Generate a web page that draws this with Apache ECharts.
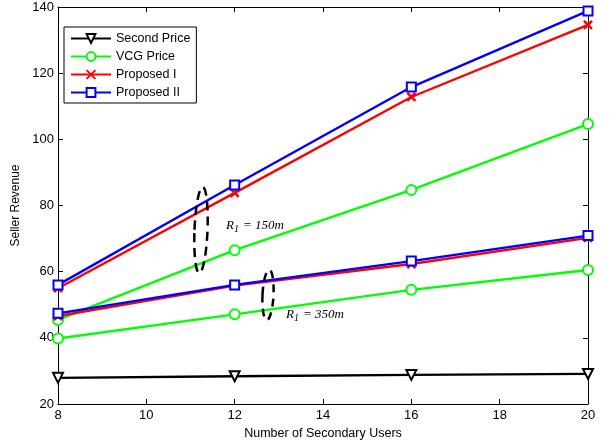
<!DOCTYPE html>
<html>
<head>
<meta charset="utf-8">
<script src="https://cdn.jsdelivr.net/npm/echarts@6/dist/echarts.min.js"></script>
<style>html,body{margin:0;padding:0;background:#fff}#c{width:609px;height:441px}</style>
</head>
<body>
<div id="c"></div>
<script>
const users = [8, 12, 16, 20];
const secondPrice = [27.9, 28.4, 28.8, 29.1];
const vcg150 = [45.4, 66.5, 84.7, 104.6];
const vcg350 = [39.8, 47.1, 54.5, 60.5];
const propI150 = [55.0, 83.8, 112.8, 134.6];
const propI350 = [46.6, 55.8, 62.3, 70.2];
const propII150 = [56.0, 86.2, 115.8, 138.8];
const propII350 = [47.4, 56.0, 63.2, 70.9];
const xTicks = [8, 10, 12, 14, 16, 18, 20];
const yTicks = [20, 40, 60, 80, 100, 120, 140];

const pair = arr => users.map((u, i) => [u, arr[i]]);
const font = 'Liberation Sans, Arial, sans-serif';
const crossPath = 'path://M0,0L10,10M10,0L0,10';

function mk(name, data, color, symbol, opts) {
  return Object.assign({
    name, type: 'line', data: pair(data), symbol, symbolSize: 10,
    lineStyle: { color, width: 2.4 },
    itemStyle: { color: '#fff', borderColor: color, borderWidth: 2 },
    emphasis: { disabled: true }, animation: false, z: 3
  }, opts || {});
}

const chart = echarts.init(document.getElementById('c'), null, { renderer: 'canvas' });
const axisCommon = {
  axisLine: { show: true, lineStyle: { color: '#000', width: 1 } },
  axisTick: { show: true, inside: true, length: 5, lineStyle: { color: '#000' } },
  splitLine: { show: false }
};
chart.setOption({
  animation: false,
  grid: { left: 58, right: 21, top: 7, bottom: 37, containLabel: false, outerBoundsMode: 'none' },
  xAxis: [
    Object.assign({ type: 'value', min: 8, max: 20, interval: 2, name: 'Number of Secondary Users',
      nameLocation: 'middle', nameGap: 21, nameTextStyle: { fontFamily: font, fontSize: 12.5, color: '#000' },
      axisLabel: { fontFamily: font, fontSize: 13, color: '#000', margin: 5,
        formatter: v => xTicks.includes(v) ? String(v) : '' } }, axisCommon),
    Object.assign({ type: 'value', min: 8, max: 20, interval: 2, position: 'top', axisLabel: { show: false } }, axisCommon)
  ],
  yAxis: [
    Object.assign({ type: 'value', min: 20, max: 140, interval: 20, name: 'Seller Revenue',
      nameLocation: 'middle', nameGap: 31, nameTextStyle: { fontFamily: font, fontSize: 12, color: '#000' },
      axisLabel: { fontFamily: font, fontSize: 13, color: '#000', margin: 4,
        formatter: v => yTicks.includes(v) ? String(v) : '' } }, axisCommon),
    Object.assign({ type: 'value', min: 20, max: 140, interval: 20, position: 'right', axisLabel: { show: false } }, axisCommon)
  ],
  legend: {
    left: 64, top: 27, orient: 'vertical', itemWidth: 40, itemHeight: 11, itemGap: 5,
    padding: [5, 6, 4, 6], borderColor: '#000', borderWidth: 1, backgroundColor: '#fff',
    textStyle: { fontFamily: font, fontSize: 12.5, color: '#000' },
    data: ['Second Price', 'VCG Price', 'Proposed I', 'Proposed II']
  },
  series: [
    mk('Second Price', secondPrice, '#000', 'triangle', { symbolRotate: 180 }),
    mk('VCG Price', vcg150, '#00ff00', 'circle'),
    mk('VCG Price', vcg350, '#00ff00', 'circle'),
    mk('Proposed I', propI150, '#ff0000', crossPath, { symbolSize: 8, itemStyle: { color: '#ff0000', borderColor: '#ff0000', borderWidth: 2.5 } }),
    mk('Proposed I', propI350, '#ff0000', crossPath, { symbolSize: 8, itemStyle: { color: '#ff0000', borderColor: '#ff0000', borderWidth: 2.5 } }),
    mk('Proposed II', propII150, '#0000ff', 'rect', { symbolSize: 9 }),
    mk('Proposed II', propII350, '#0000ff', 'rect', { symbolSize: 9 })
  ],
  graphic: [
    { type: 'ellipse', shape: { cx: 201, cy: 230, rx: 6.5, ry: 43 }, rotation: -0.04, originX: 201, originY: 230,
      style: { fill: 'none', stroke: '#000', lineWidth: 2.5, lineDash: [9, 6] }, z: 10 },
    { type: 'ellipse', shape: { cx: 268, cy: 295, rx: 5.5, ry: 25 }, rotation: -0.05, originX: 268, originY: 295,
      style: { fill: 'none', stroke: '#000', lineWidth: 2.5, lineDash: [8, 6] }, z: 10 },
    { type: 'text', left: 226, top: 219, z: 10,
      style: { text: '{i|R}{s|1}{i|= 150m}', rich: {
        i: { fontFamily: 'Liberation Serif, serif', fontStyle: 'italic', fontSize: 13, fill: '#000' },
        s: { fontFamily: 'Liberation Serif, serif', fontStyle: 'italic', fontSize: 10, fill: '#000', padding: [8, 4, 0, 0] } } } },
    { type: 'text', left: 286, top: 308, z: 10,
      style: { text: '{i|R}{s|1}{i|= 350m}', rich: {
        i: { fontFamily: 'Liberation Serif, serif', fontStyle: 'italic', fontSize: 13, fill: '#000' },
        s: { fontFamily: 'Liberation Serif, serif', fontStyle: 'italic', fontSize: 10, fill: '#000', padding: [8, 4, 0, 0] } } } }
  ]
});
</script>
</body>
</html>
